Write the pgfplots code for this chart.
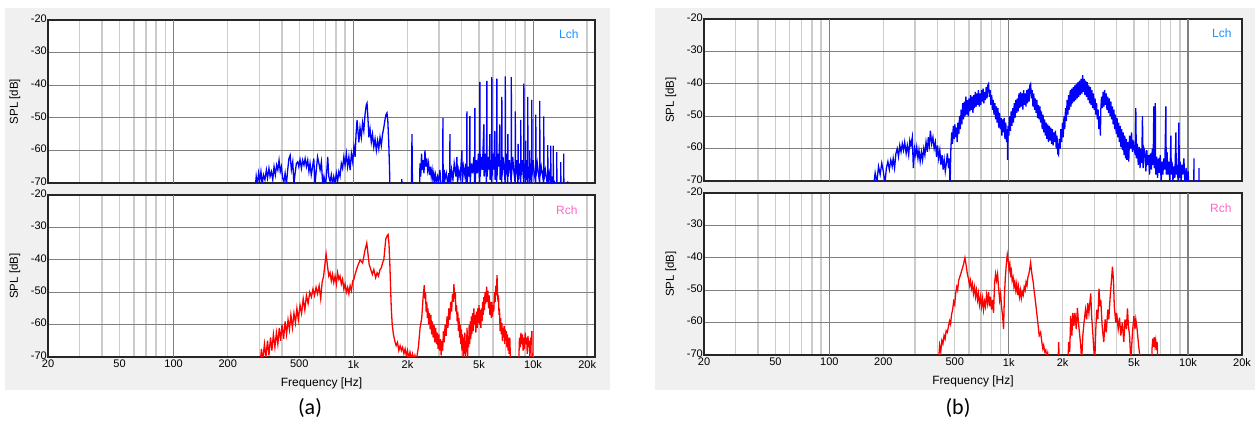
\documentclass[border=0pt]{standalone}
\usepackage{pgfplots}
\pgfplotsset{compat=1.18}
\usepackage{fontspec}
\setmainfont{Liberation Sans}
\newfontfamily\capfont{Carlito}
\definecolor{bggrey}{RGB}{240,240,240}
\definecolor{gridlight}{RGB}{204,204,204}
\definecolor{griddark}{RGB}{128,128,128}
\definecolor{lchcol}{RGB}{30,144,255}
\definecolor{rchcol}{RGB}{255,102,204}
\definecolor{trblue}{RGB}{0,0,255}
\definecolor{trred}{RGB}{255,0,0}

\pgfplotsset{
  every axis/.append style={
    xmode=log, scale only axis, ymin=-70, ymax=-20, xmin=20,
    axis background/.style={fill=white},
    axis line style={black!85, line width=1.3pt},
    major tick length=0pt, minor tick length=0pt,
    ytick={-70,-60,-50,-40,-30,-20},
    yticklabels={-70,-60,-50,-40,-30,-20},
    xtick={20,50,200,500,2000,5000,20000},
    extra x ticks={100,1000,10000},
    extra x tick style={grid=major, major grid style={griddark, line width=1.1pt}},
    minor xtick={20,30,40,50,60,70,80,90,200,300,400,500,600,700,800,900,2000,3000,4000,5000,6000,7000,8000,9000,20000},
    xmajorgrids=false, xminorgrids=true, ymajorgrids=true,
    minor grid style={gridlight, line width=1.5pt},
    major grid style={griddark, line width=1.1pt},
    tick label style={font=\fontsize{11}{13}\selectfont},
    yticklabel style={inner xsep=1pt, yshift=1.5pt},
    xticklabel style={inner ysep=3pt},
    ylabel={SPL [dB]},
    ylabel style={at={(axis description cs:0,0.5)}, anchor=center, yshift=33pt, font=\fontsize{11.5}{13}\selectfont},
    xlabel style={at={(axis description cs:0.5,0)}, anchor=north, yshift=-17pt, font=\fontsize{12}{14}\selectfont},
  },
}

\begin{document}
\begin{tikzpicture}
\useasboundingbox (0,0) rectangle (1258pt,-423pt);
\fill[bggrey] (5pt,-8pt) rectangle (610pt,-390pt);
\fill[bggrey] (655pt,-8pt) rectangle (1255pt,-390pt);

% ---------------- (a) Lch ----------------
\begin{axis}[at={(48pt,-20pt)}, anchor=north west, width=547pt, height=163pt, xmax=22100,
  xticklabels={}, extra x tick labels={}]
\addplot[no marks, line width=1.3pt, trblue] coordinates {
(284,-72)(288,-68)(292,-70.5)(297,-67)(301,-69.5)(306,-66.5)(311,-70.5)(316,-67.5)(322,-69)(328,-66)(333,-68.5)(339,-65.5)(344,-68)(350,-66.5)(356,-69)(362,-65)(368,-67.5)(374,-64.5)(380,-66)(386,-63)(392,-66.5)(398,-65)(404,-68.5)(411,-69.5)(417,-67)(424,-70.5)(431,-66)(438,-62.5)(445,-61.5)(452,-66)(460,-63.5)(467,-70.5)(474,-67)(482,-64)(490,-63.5)(497,-65)(505,-62.8)(514,-65.5)(522,-63)(531,-64.5)(539,-62.5)(548,-65)(557,-63)(566,-66.5)(574,-64)(583,-67.5)(593,-65)(602,-62.5)(612,-70.5)(622,-66)(632,-62)(643,-64)(653,-66)(664,-63.5)(675,-70.5)(686,-68)(700,-71)(712,-66)(720,-62)(730,-68)(742,-69.5)(754,-67.5)(766,-70.5)(778,-68)(791,-70)(804,-67)(817,-69.5)(830,-66.5)(843,-68)(857,-64)(871,-65.5)(885,-62)(899,-64.5)(914,-61)(929,-65)(944,-62)(959,-66)(975,-61)(991,-63.5)(1007,-59)(1022,-62)(1035,-55)(1048,-50.7)(1060,-54)(1073,-57.5)(1089,-53)(1107,-56)(1125,-51.5)(1143,-54)(1161,-49)(1180,-46)(1191,-45.5)(1205,-50)(1220,-56)(1238,-53.5)(1258,-57.5)(1278,-55)(1299,-59)(1320,-56.5)(1342,-60)(1363,-57)(1385,-59.5)(1407,-56)(1430,-58.5)(1453,-55)(1477,-53)(1500,-50.5)(1520,-49)(1538,-48.5)(1555,-51)(1574,-58)(1590,-66)(1600,-75)
(1850,-75)(1860,-68.8)(1870,-75)(2100,-75)(2119,-55)(2135,-75)
(2330,-75)(2347,-64)(2370,-68)(2395,-61)(2420,-66)(2445,-63)(2470,-67)(2502,-60)(2530,-65)(2560,-62.5)(2590,-66)(2620,-64)(2650,-67.5)(2680,-65)(2710,-68)(2740,-66)(2770,-69)(2800,-67)(2830,-69.5)(2860,-67.5)(2900,-70)(2940,-68)(2980,-69.5)(3031,-66)(3080,-72)
(3140,-72)(3150,-50)(3160,-72)(3200,-66)(3231,-69)(3290,-67)(3350,-70.5)(3400,-67)(3435,-72)(3445,-55)(3455,-72)(3520,-66)(3580,-69)(3640,-64)(3720,-68)(3768,-62)(3800,-70)(3860,-66)(3930,-68.5)(4018,-60)(4040,-70)(4110,-65)(4180,-68)(4230,-64)(4270,-70)(4282,-48)(4295,-70)(4360,-65)(4420,-68)(4449,-49.5)(4465,-70)(4540,-64)(4600,-67)(4680,-62)(4730,-70)(4743,-47)(4760,-70)(4830,-63)(4900,-67)(4960,-61)(5040,-70)(5056,-39)(5075,-68)(5150,-62)(5220,-66)(5322,-52)(5340,-68)(5420,-61)(5500,-70)(5530,-38.7)(5550,-68)(5620,-62)(5700,-66)(5746,-55)(5765,-69)(5820,-63)(5880,-70)(5894,-37.5)(5910,-68)(5980,-61)(6060,-66)(6125,-54)(6140,-69)(6200,-62)(6270,-70)(6284,-38)(6300,-68)(6380,-61)(6450,-65)(6530,-52)(6550,-69)(6620,-63)(6685,-70)(6699,-43.6)(6715,-68)(6800,-62)(6900,-66)(6990,-70)(7005,-37.3)(7020,-68)(7120,-61)(7220,-70)(7240,-55)(7260,-68)(7380,-63)(7550,-70)(7565,-37.5)(7580,-68)(7700,-62)(7800,-66)(7945,-70)(7962,-48)(7980,-68)(8100,-63)(8230,-70)(8250,-58)(8270,-69)(8400,-64)(8520,-70)(8541,-50.6)(8560,-68)(8700,-63)(8860,-70)(8880,-39.5)(8900,-68)(9000,-64)(9080,-70)(9100,-57)(9120,-69)(9220,-63)(9320,-70)(9341,-43.6)(9360,-68)(9480,-65)(9560,-70)(9585,-60)(9605,-69)(9700,-64)(9810,-70)(9834,-44.5)(9855,-68)(10000,-63)(10150,-67)(10330,-70)(10352,-49)(10375,-68)(10550,-64)(10700,-67)(10870,-70)(10893,-44.8)(10915,-68)(11100,-65)(11300,-68)(11440,-70)(11467,-49.6)(11490,-69)(11700,-66)(11900,-69)(12045,-71)(12069,-58.4)(12095,-70)(12300,-67)(12515,-71)(12540,-58.5)(12565,-71)(12750,-68)(12925,-72)(12948,-58.5)(12975,-72)(13200,-70)(13515,-72)(13541,-60.5)(13570,-72)(14225,-72)(14253,-63.6)(14280,-72)(14780,-72)(14806,-61)(14835,-72)(15560,-72)(15587,-69.5)(15615,-75)
};
\node[anchor=east, xshift=-13pt, yshift=-14pt, text=lchcol, font=\fontsize{12}{14}\selectfont] at (rel axis cs:1,1) {Lch};
\end{axis}

% ---------------- (a) Rch ----------------
\begin{axis}[at={(48pt,-195pt)}, anchor=north west, width=547pt, height=162pt, xmax=22100,
  xticklabels={20,50,200,500,2k,5k,20k}, extra x tick labels={100,1k,10k}, xlabel={Frequency [Hz]}]
\addplot[no marks, line width=1.3pt, trred] coordinates {
(303,-72)(308,-67.5)(313,-71.5)(320,-66)(326,-70)(333,-65)(339,-69.5)(346,-64)(352,-68)(359,-63)(366,-67)(373,-62.5)(380,-66)(387,-61)(394,-65)(401,-60)(409,-64.5)(417,-59)(425,-63)(433,-58.5)(441,-61.5)(449,-57)(458,-61)(467,-56.5)(476,-59.5)(485,-55)(494,-58.5)(505,-54)(515,-56.5)(526,-52)(537,-55.5)(548,-51)(560,-53.5)(572,-50)(584,-51.5)(596,-49)(608,-51)(620,-48.5)(632,-50.5)(645,-48)(658,-52)(670,-47)(683,-45)(696,-41)(705,-38.2)(718,-42)(730,-45)(742,-44)(754,-46.5)(766,-44.5)(778,-47)(791,-45)(804,-47.5)(817,-44)(830,-46)(843,-45)(857,-47.5)(871,-46)(885,-49)(899,-47.5)(914,-50)(929,-48.5)(944,-50.5)(959,-48)(975,-49.5)(991,-46.5)(1007,-46)(1022,-44.5)(1056,-42)(1090,-40)(1125,-41)(1161,-37)(1187,-34.8)(1205,-38)(1225,-41.5)(1250,-43)(1275,-44.5)(1300,-43)(1330,-45.5)(1355,-44)(1380,-45)(1407,-43)(1430,-42.5)(1453,-41)(1477,-40)(1500,-36)(1515,-33.5)(1530,-33)(1545,-32.5)(1560,-32.2)(1578,-35)(1595,-41)(1610,-48)(1625,-55)(1645,-60)(1670,-63)(1700,-65)(1730,-66.5)(1760,-65.5)(1790,-68)(1820,-66.5)(1850,-68)(1880,-67)(1910,-69)(1940,-67.5)(1970,-69.5)(2000,-68)(2030,-70.5)(2065,-68.5)(2100,-70.5)(2135,-69)(2170,-71)(2201,-69.5)(2240,-71)(2300,-67)(2350,-61)(2400,-58)(2440,-52)
(2480,-47.8)(2500,-52)(2520,-50)(2540,-56)(2560,-53)(2580,-58)(2600,-55)(2625,-60)(2650,-56.5)(2675,-61.5)(2700,-57)(2725,-63)(2750,-59)(2780,-64)(2810,-60)(2840,-65.5)(2870,-61)(2900,-66)(2930,-62.5)(2960,-67.5)(2990,-63)(3020,-68)(3050,-64.5)(3080,-69.5)(3110,-65)(3140,-68)(3170,-62)(3200,-65.5)(3240,-60)(3280,-63.5)(3320,-57.5)(3360,-61)(3400,-55)(3440,-58.5)(3480,-53)(3520,-56)(3560,-50.5)(3600,-53)(3626,-47.5)(3660,-52)(3690,-50)(3720,-56)(3750,-54)(3780,-59)(3810,-56)(3840,-62)(3870,-58)(3900,-64)(3930,-60)(3960,-66)(3990,-61.5)(4020,-68)(4050,-63)(4080,-70.5)(4110,-64)(4140,-69)(4170,-62.5)(4200,-71)(4230,-65)(4260,-68.5)(4290,-61)(4320,-70)(4350,-63.5)(4380,-67)(4410,-60)(4440,-66)(4470,-59)(4500,-64.5)(4530,-57.5)(4560,-63)(4600,-56.5)(4640,-62)(4680,-55)(4720,-60)(4760,-57)(4800,-62.5)(4840,-56)(4880,-61)(4920,-55)(4960,-59.5)(5000,-54)(5040,-60)(5080,-55.5)(5120,-61)(5160,-55)(5200,-59)(5240,-53)(5280,-57)(5320,-51.5)(5360,-55.5)(5400,-50)(5450,-53.5)(5514,-48.3)(5550,-53)(5600,-49.5)(5650,-55)(5700,-51)(5750,-57)(5800,-53)(5850,-58)(5897,-53)(5940,-57.5)(5990,-54)(6040,-56)(6100,-50)(6150,-53)(6200,-48)(6250,-51)(6297,-44.7)(6340,-50)(6380,-53)(6420,-51)(6460,-57)(6500,-55)(6550,-62)(6600,-58)(6650,-63)(6700,-59.5)(6750,-65)(6800,-61)(6850,-64)(6900,-60.5)(6950,-66)(7000,-61.5)(7050,-65)(7100,-62)(7150,-67)(7200,-63)(7250,-68)(7300,-64)(7350,-69)(7420,-64)(7500,-73)
(8300,-73)(8400,-64)(8480,-67)(8560,-62.5)(8640,-66)(8720,-63)(8800,-68)(8880,-64)(8960,-67.5)(9040,-62.5)(9120,-66)(9200,-64)(9280,-69)(9360,-63.5)(9440,-67)(9520,-65)(9600,-70.5)(9680,-64)(9760,-66)(9840,-62)(9900,-75)
};
\node[anchor=east, xshift=-14pt, yshift=-15pt, text=rchcol, font=\fontsize{12}{14}\selectfont] at (rel axis cs:1,1) {Rch};
\end{axis}

% ---------------- (b) Lch ----------------
\begin{axis}[at={(704pt,-19pt)}, anchor=north west, width=538pt, height=162pt, xmax=20000,
  xticklabels={}, extra x tick labels={}]
\addplot[no marks, line width=1.3pt, trblue] coordinates {
(176,-72)(180,-67.5)(184,-70.5)(188,-65.5)(192,-68)(196,-64.5)(200,-67)(204,-71)(208,-66)(212,-64)(216,-66.5)(220,-63.5)(224,-65.5)(227,-63)(231,-66)(235,-61.5)(239,-60)(243,-62.5)(247,-59)(251,-61)(255,-58.5)(259,-60.5)(263,-58)(268,-61.5)(272,-59)(277,-62)(281,-57.5)(285,-59)(290,-56.5)(294,-66)(299,-60)(303,-62)(307,-59.5)(312,-63)(316,-60.5)(321,-64)(326,-61)(331,-63.5)(336,-60)(341,-62)(346,-58)(352,-61)(356,-56.5)(361,-59)(366,-54.5)(372,-58.5)(378,-56.5)(384,-60)(390,-58)(396,-62.5)(401,-59)(407,-63)(413,-60.5)(419,-65)(425,-62)(431,-66.5)(437,-63.5)(443,-67)(449,-64.5)(455,-61.5)(462,-66)(467,-63)
(471,-72)(476,-60)(481,-55)(486,-58.5)(491,-53)(496,-57)(501,-52.5)(506,-56.5)(511,-53.5)(516,-58)(521,-52)(527,-55.5)(532,-50)(537,-54)(543,-48)(548,-52.5)(554,-46)(560,-51)(565,-45.5)(571,-50)(577,-44)(583,-49.5)(589,-45)(595,-50)(601,-44.5)(607,-48.5)(613,-43.5)(619,-48)(625,-44)(632,-49)(638,-43.5)(645,-47.5)(651,-42.5)(658,-47)(664,-43)(671,-46.5)(678,-42)(685,-47)(692,-43)(699,-46.5)(706,-42)(713,-45.5)(720,-41.5)(727,-46)(734,-42.5)(742,-45)(749,-41)(757,-44.5)(764,-40.5)(772,-40)(780,-44)(788,-42)(796,-46.5)(804,-43.5)(812,-48)(820,-45)(828,-49.5)(837,-46)(845,-51)(854,-47)(862,-52)(871,-47.5)(880,-53.5)(889,-49)(898,-54)(907,-50.5)(916,-56)(925,-51)(934,-55)(944,-50.5)(953,-57)(963,-52)(972,-58)(982,-54)(986,-63.5)(992,-53)(1002,-56)(1012,-50)(1022,-54.5)(1032,-48.5)(1042,-53)(1053,-47.5)(1063,-52)(1074,-46)(1085,-50.5)(1096,-45)(1107,-49)(1118,-44.5)(1129,-48.5)(1141,-43)(1152,-47.5)(1164,-42.5)(1176,-47)(1187,-43)(1199,-48)(1211,-42)(1223,-46.5)(1236,-43)(1248,-47)(1261,-42)(1273,-46)(1286,-41.5)(1299,-45.5)(1312,-40.5)(1325,-40)(1338,-44.5)(1352,-42)(1365,-47)(1379,-43)(1393,-48)(1407,-44.5)(1421,-49)(1435,-45)(1449,-50.5)(1464,-46.5)(1478,-51)(1493,-47)(1508,-52)(1523,-48.5)(1538,-54)(1554,-49.5)(1569,-55)(1585,-51)(1601,-56)(1617,-52)(1633,-57)(1650,-52.5)(1666,-58)(1683,-53)(1700,-57.5)(1717,-53.5)(1734,-58.5)(1751,-54)(1769,-59)(1787,-55)(1805,-58)(1823,-54.5)(1841,-60)(1859,-56)(1878,-61.5)(1897,-62)(1916,-57)(1935,-60)(1954,-54)(1974,-58)(1994,-52)(2014,-56.5)(2034,-50)(2054,-54)(2075,-47.5)(2096,-51.5)(2117,-45)(2138,-49.5)(2159,-43.5)(2181,-48)(2203,-42)(2225,-47)(2247,-41.5)(2269,-46)(2292,-41)(2315,-45.5)(2338,-40.5)(2362,-45)(2385,-40)(2409,-44.5)(2433,-39.5)(2458,-44)(2482,-39)(2507,-43.5)(2532,-38.5)(2558,-43)(2586,-37.3)(2609,-42.5)(2635,-38.5)(2661,-43.5)(2688,-39)(2715,-44)(2742,-39.5)(2770,-45)(2797,-40.5)(2825,-46)(2854,-41)(2882,-46.5)(2911,-42)(2940,-47.5)(2970,-43)(3000,-48)(3030,-44.5)(3060,-49.5)(3090,-46)(3121,-51)(3152,-48)(3184,-54)(3216,-50)(3248,-56)(3262,-48)(3294,-44)(3327,-47.5)(3360,-42.5)(3394,-47)(3428,-42)(3462,-46.5)(3497,-43)(3532,-48)(3567,-44)(3603,-49)(3639,-44.5)(3675,-50)(3712,-45.5)(3749,-51)(3786,-47)(3824,-52.5)(3862,-48)(3901,-54)(3940,-49.5)(3979,-55.5)(4019,-50.5)(4059,-56.5)(4100,-52)(4141,-58)(4182,-53)(4224,-59.5)(4266,-54)(4309,-60.5)(4352,-55)(4396,-62)(4440,-56)(4484,-63)(4529,-57)
(4560,-63.5)(4614,-58)(4670,-64)(4720,-56)(4780,-60)(4840,-55)(4900,-61)(4960,-57.5)(5010,-60)(5080,-62)(5114,-47.5)(5150,-63)(5210,-58.5)(5280,-65)(5340,-59.5)(5400,-66)(5460,-60)(5520,-64.5)(5570,-50)(5620,-66)(5680,-60)(5750,-61)(5820,-67)(5890,-60.5)(5960,-65)(6030,-62)(6100,-68)(6170,-61.5)(6250,-66.5)(6320,-60)(6390,-65)(6446,-47)(6480,-66)(6570,-46)(6600,-68)(6680,-62.5)(6760,-69)(6840,-63)(6920,-67.5)(7000,-62)(7080,-70.5)(7160,-64)(7240,-68)(7320,-63)(7420,-66.5)(7524,-47)(7560,-68)(7640,-61)(7720,-68)(7820,-64)(7920,-70)(8024,-56)(8060,-68)(8140,-64)(8240,-70)(8340,-65.5)(8440,-69)(8558,-55)(8600,-68)(8700,-65)(8800,-70)(8892,-52)(8950,-69)(9050,-64)(9150,-70.5)(9250,-65)(9350,-68)(9484,-63)(9600,-71)(9750,-66)(9900,-72)(10000,-67)(10150,-73)(10300,-70)(10450,-75)(10760,-75)(10790,-63)(10820,-75)(11480,-75)(11508,-66)(11540,-75)
};
\node[anchor=east, xshift=-7pt, yshift=-14pt, text=lchcol, font=\fontsize{12}{14}\selectfont] at (rel axis cs:1,1) {Lch};
\end{axis}

% ---------------- (b) Rch ----------------
\begin{axis}[at={(704pt,-193pt)}, anchor=north west, width=538pt, height=162pt, xmax=20000,
  xticklabels={20,50,200,500,2k,5k,20k}, extra x tick labels={100,1k,10k}, xlabel={Frequency [Hz]}]
\addplot[no marks, line width=1.3pt, trred] coordinates {
(406,-72)(412,-67)(418,-69)(424,-65.5)(430,-66.5)(436,-64)(442,-65)(448,-62.5)(455,-63)(462,-61)(468,-59.5)(474,-60.5)(480,-57.5)(487,-56)(493,-53.5)(500,-54.5)(506,-51)(513,-49)(519,-50)(526,-47)(533,-46)(540,-45)(550,-43.5)(560,-42)(570,-40)(580,-42.5)(588,-45)(597,-46.5)(605,-48.5)(612,-47)(620,-49.5)(628,-48)(636,-51)(645,-49)(653,-52)(661,-50)(670,-53)(678,-51)(687,-54.5)(697,-52)(706,-55)(715,-52.5)(724,-56)(733,-53.5)(742,-55)(752,-51.5)(762,-54)(772,-50.5)(782,-55)(792,-52)(802,-56)(812,-53)(823,-57)(834,-48)(845,-45)(856,-47)(867,-45)(878,-49)(890,-53)(901,-51)(912,-55)(925,-58)(936,-62)(946,-52)(958,-46)(970,-42)(982,-39)(995,-41)(1005,-43.5)(1015,-42)(1025,-45)(1035,-44)(1045,-47)(1058,-46)(1070,-49)(1082,-47.5)(1095,-50)(1108,-48)(1121,-51.5)(1134,-49)(1148,-52)(1162,-50)(1176,-52.5)(1190,-50.5)(1205,-51.5)(1220,-49)(1235,-50)(1250,-47.5)(1265,-48.5)(1280,-46)(1295,-45)(1310,-43.5)(1325,-41.5)(1340,-44)(1355,-46)(1370,-47.5)(1385,-50)(1400,-52)(1420,-55)(1440,-58)(1460,-61)(1480,-64)(1507,-63)(1530,-66)(1550,-68)(1566,-67)(1590,-69)(1610,-68.5)(1630,-71)(1650,-69.5)(1670,-72)(1700,-75)(1880,-75)(1900,-66)(1920,-75)(2130,-75)(2160,-66)(2190,-69)(2216,-58)(2250,-64)(2280,-57)(2310,-61)(2340,-57)(2380,-62)(2416,-55.5)(2450,-60)(2490,-64)(2521,-67)(2550,-72)(2590,-64)(2630,-60)(2680,-56)(2720,-59)(2760,-54)(2800,-57)(2867,-51)(2900,-58)(2943,-63)(2980,-68)(3020,-72)(3060,-62)(3100,-56)(3140,-59)(3190,-49.5)(3230,-55)(3262,-53)(3320,-61)(3390,-66)(3450,-59)(3500,-63)(3569,-56)(3614,-59)(3680,-52)(3740,-47)(3790,-42.7)(3840,-47)(3880,-55)(3956,-60)(4000,-57)(4080,-62)(4150,-58.5)(4218,-64)(4300,-60)(4383,-66)(4450,-59)(4530,-62)(4596,-55.6)(4650,-61)(4720,-64)(4796,-72)(4900,-63)(4990,-58)(5060,-62)(5114,-59)(5200,-62)(5300,-67)(5454,-73)(6250,-75)(6300,-68)(6360,-65)(6420,-67.5)(6480,-64.5)(6540,-67)(6600,-65.5)(6660,-68.5)(6720,-66)(6780,-71)(6850,-75)
};
\node[anchor=east, xshift=-7pt, yshift=-15pt, text=rchcol, font=\fontsize{12}{14}\selectfont] at (rel axis cs:1,1) {Rch};
\end{axis}

\node[font=\capfont\fontsize{22}{26}\selectfont] at (310pt,-408pt) {(a)};
\node[font=\capfont\fontsize{22}{26}\selectfont] at (958pt,-408pt) {(b)};
\end{tikzpicture}
\end{document}
